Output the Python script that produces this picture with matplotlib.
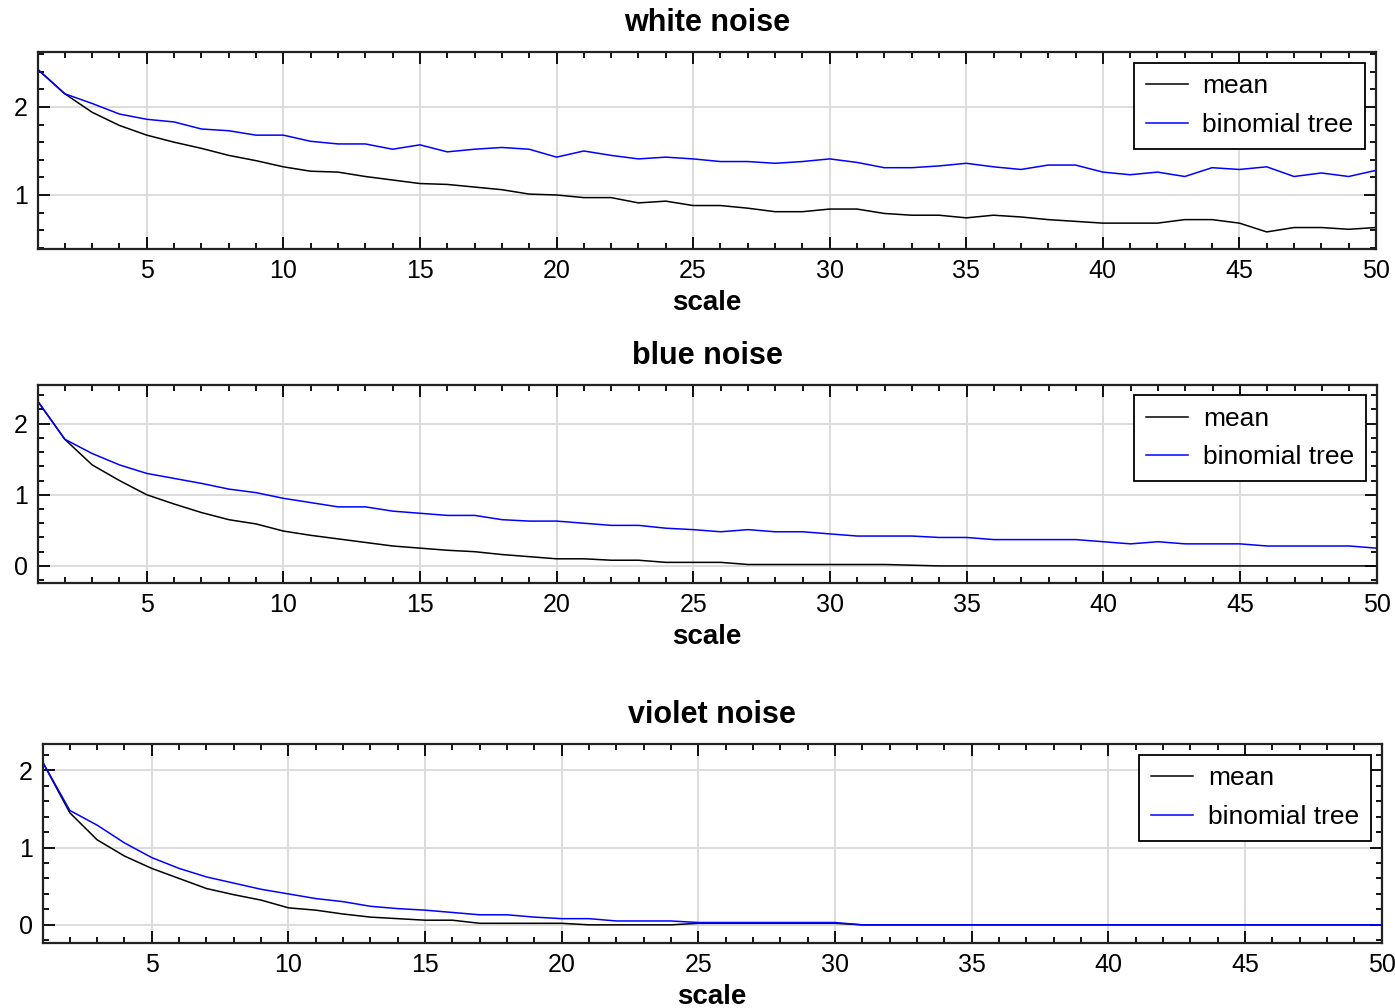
import numpy as np
import matplotlib
matplotlib.use('Agg')
import matplotlib.pyplot as plt
from matplotlib.ticker import MultipleLocator

plt.rcParams['font.family'] = ['Liberation Sans', 'DejaVu Sans']

# scale axis
scale = np.arange(1, 51)

# white noise
white_mean = [2.43, 2.15, 1.94, 1.79, 1.68, 1.60, 1.53, 1.45, 1.39, 1.32,
              1.27, 1.26, 1.21, 1.17, 1.13, 1.12, 1.09, 1.06, 1.01, 1.00,
              0.97, 0.97, 0.91, 0.93, 0.88, 0.88, 0.85, 0.81, 0.81, 0.84,
              0.84, 0.79, 0.77, 0.77, 0.74, 0.77, 0.75, 0.72, 0.70, 0.68,
              0.68, 0.68, 0.72, 0.72, 0.68, 0.58, 0.63, 0.63, 0.61, 0.63]
white_tree = [2.43, 2.15, 2.04, 1.92, 1.86, 1.83, 1.75, 1.73, 1.68, 1.68,
              1.61, 1.58, 1.58, 1.52, 1.57, 1.49, 1.52, 1.54, 1.52, 1.43,
              1.50, 1.45, 1.41, 1.43, 1.41, 1.38, 1.38, 1.36, 1.38, 1.41,
              1.37, 1.31, 1.31, 1.33, 1.36, 1.32, 1.29, 1.34, 1.34, 1.26,
              1.23, 1.26, 1.21, 1.31, 1.29, 1.32, 1.21, 1.25, 1.21, 1.28]

# blue noise
blue_mean = [2.32, 1.78, 1.42, 1.20, 1.00, 0.87, 0.75, 0.65, 0.59, 0.49,
             0.43, 0.38, 0.33, 0.28, 0.25, 0.22, 0.20, 0.16, 0.13, 0.10,
             0.10, 0.08, 0.08, 0.05, 0.05, 0.05, 0.02, 0.02, 0.02, 0.02,
             0.02, 0.02, 0.01, 0.00, 0.00, 0.00, 0.00, 0.00, 0.00, 0.00,
             0.00, 0.00, 0.00, 0.00, 0.00, 0.00, 0.00, 0.00, 0.00, 0.00]
blue_tree = [2.32, 1.78, 1.58, 1.42, 1.30, 1.23, 1.16, 1.08, 1.03, 0.95,
             0.89, 0.83, 0.83, 0.77, 0.74, 0.71, 0.71, 0.65, 0.63, 0.63,
             0.60, 0.57, 0.57, 0.53, 0.51, 0.48, 0.51, 0.48, 0.48, 0.45,
             0.42, 0.42, 0.42, 0.40, 0.40, 0.37, 0.37, 0.37, 0.37, 0.34,
             0.31, 0.34, 0.31, 0.31, 0.31, 0.28, 0.28, 0.28, 0.28, 0.25]

# violet noise
violet_mean = [2.11, 1.45, 1.10, 0.89, 0.73, 0.60, 0.47, 0.39, 0.32, 0.22,
               0.19, 0.14, 0.10, 0.08, 0.06, 0.06, 0.02, 0.02, 0.02, 0.02,
               0.00, 0.00, 0.00, 0.00, 0.02, 0.02, 0.02, 0.02, 0.02, 0.02,
               0.00, 0.00, 0.00, 0.00, 0.00, 0.00, 0.00, 0.00, 0.00, 0.00,
               0.00, 0.00, 0.00, 0.00, 0.00, 0.00, 0.00, 0.00, 0.00, 0.00]
violet_tree = [2.11, 1.48, 1.29, 1.06, 0.87, 0.73, 0.62, 0.54, 0.46, 0.40,
               0.34, 0.30, 0.24, 0.21, 0.19, 0.16, 0.13, 0.13, 0.10, 0.08,
               0.08, 0.05, 0.05, 0.05, 0.03, 0.03, 0.03, 0.03, 0.03, 0.03,
               0.00, 0.00, 0.00, 0.00, 0.00, 0.00, 0.00, 0.00, 0.00, 0.00,
               0.00, 0.00, 0.00, 0.00, 0.00, 0.00, 0.00, 0.00, 0.00, 0.00]

panels = [
    ('white noise', white_mean, white_tree, (0.386, 2.625), [1, 2]),
    ('blue noise', blue_mean, blue_tree, (-0.24, 2.55), [0, 1, 2]),
    ('violet noise', violet_mean, violet_tree, (-0.235, 2.34), [0, 1, 2]),
]

W, H = 1395, 1008
# axes boxes in pixels: left, top, right, bottom
boxes = [(37.5, 52, 1376, 249),
         (37.5, 384.5, 1376.5, 583),
         (42.5, 744, 1381.5, 943)]

fig = plt.figure(figsize=(W / 100, H / 100), dpi=100)

for (title, mean, tree, ylim, yticks), (l, t, r, b) in zip(panels, boxes):
    ax = fig.add_axes([l / W, 1 - b / H, (r - l) / W, (b - t) / H])
    ax.plot(scale, mean, color='black', lw=1.1, label='mean')
    ax.plot(scale, tree, color='#0000ff', lw=1.1, label='binomial tree')
    ax.set_xlim(1, 50)
    ax.set_ylim(*ylim)
    ax.set_xticks([5, 10, 15, 20, 25, 30, 35, 40, 45, 50])
    ax.set_yticks(yticks)
    ax.xaxis.set_minor_locator(MultipleLocator(1))
    ax.yaxis.set_minor_locator(MultipleLocator(0.2))
    ax.tick_params(which='both', direction='in', top=True, right=True,
                   width=1.3, colors='black', labelsize=18)
    ax.tick_params(which='major', length=8.5, pad=7)
    ax.tick_params(which='minor', length=4.3)
    ax.grid(True, which='major', color='#d9d9d9', lw=1.3)
    ax.set_axisbelow(True)
    for sp in ax.spines.values():
        sp.set_linewidth(1.6)
        sp.set_color('#222222')
    ax.set_title(title, fontsize=22, fontweight='bold', pad=15)
    ax.set_xlabel('scale', fontsize=20, fontweight='bold', labelpad=5)
    leg = ax.legend(loc='upper right', fontsize=19, fancybox=False,
                    framealpha=1, edgecolor='black', handlelength=1.6,
                    handletextpad=0.55, borderaxespad=0.4, labelspacing=0.55,
                    borderpad=0.45)
    leg.get_frame().set_linewidth(1.3)

fig.savefig('out.png', dpi=100)
